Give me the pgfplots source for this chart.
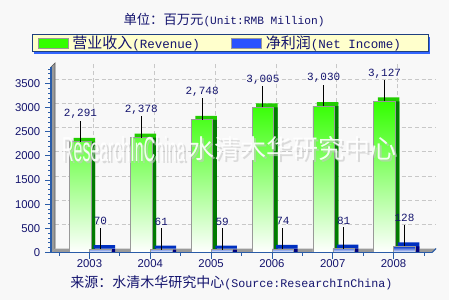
\documentclass[border=0pt]{standalone}
\usepackage{pgfplots}
\pgfplotsset{compat=1.18}
\usepackage{pgfplotstable}
\usepackage{fontspec}
\setmainfont{Liberation Sans}
\newfontfamily\cjk{Noto Sans CJK SC}
\newfontfamily\mono{Liberation Mono}
\definecolor{navy}{HTML}{14146E}
\definecolor{axblue}{HTML}{2A5CA8}
\definecolor{bg}{HTML}{F8F8F8}
\definecolor{gfront}{HTML}{33FF00}
\definecolor{gtop}{HTML}{22CC00}
\definecolor{gside}{HTML}{007A00}
\definecolor{bfront}{HTML}{0033CC}
\definecolor{btop}{HTML}{0030C0}
\definecolor{bside}{HTML}{000080}
\definecolor{wallgray}{HTML}{9A9A9A}
\definecolor{legbg}{HTML}{FFFFCC}
\definecolor{legshadow}{HTML}{3366FF}
\definecolor{legborder}{HTML}{1F3F7F}
\definecolor{gridgray}{HTML}{C8C8C8}
\definecolor{barborder}{HTML}{999999}

\pgfplotstableread{
x rev net
0 2291 70
1 2378 61
2 2748 59
3 3005 74
4 3030 81
5 3127 128
}\data

\begin{document}
\begin{tikzpicture}[x=0.75pt,y=0.75pt]
\fill[bg] (0,0) rectangle (449,300);

% back wall grid
\begin{axis}[scale only axis, width=285.75pt, height=139.125pt,
  at={(41.25pt,38.625pt)}, anchor=south west,
  xmin=-0.633, xmax=5.633, ymin=0, ymax=3840,
  axis line style={draw=none}, tick style={draw=none},
  xtick={0,...,5}, ytick={500,1000,...,3500},
  xticklabels={}, yticklabels={},
  grid=major, major grid style={gridgray, dash pattern=on 3pt off 2pt, line width=0.6pt},
]
\addplot[draw=none] coordinates {(0,0)};
\end{axis}

% main axis
\begin{axis}[scale only axis, width=285.75pt, height=139.125pt,
  at={(38.25pt,35.625pt)}, anchor=south west,
  xmin=-0.633, xmax=5.633, ymin=0, ymax=3840,
  axis x line*=bottom, axis y line*=left,
  axis line style={axblue, line width=0.8pt},
  axis on top,
  xtick={0,...,5}, xticklabels={2003,2004,2005,2006,2007,2008},
  minor xtick={-0.5,0.5,...,5.5},
  ytick={0,500,...,3500}, minor ytick={100,200,...,3800},
  tick align=outside, major tick length=4.5pt, minor tick length=2.25pt,
  tick style={axblue, line width=0.6pt},
  ticklabel style={font=\fontsize{8.5}{10}\selectfont, text=navy},
  xticklabel style={yshift=2.5pt},
  /pgf/number format/assume math mode=true,
  scaled y ticks=false, y tick label style={/pgf/number format/1000 sep={}},
  clip=false,
]
% floor and left wall
\fill[wallgray] (rel axis cs:0,0) -- (rel axis cs:1,0) -- ([shift={(3pt,3pt)}]rel axis cs:1,0) -- ([shift={(3pt,3pt)}]rel axis cs:0,0) -- cycle;
\draw[axblue, line width=0.8pt] (rel axis cs:1,0) -- ([shift={(3pt,3pt)}]rel axis cs:1,0);
\fill[wallgray] (rel axis cs:0,0) -- ([shift={(3pt,3pt)}]rel axis cs:0,0) -- ([shift={(3pt,3pt)}]rel axis cs:0,1) -- (rel axis cs:0,1) -- cycle;
\draw[gray!70!black, line width=0.5pt] (rel axis cs:0,1) -- ([shift={(3pt,3pt)}]rel axis cs:0,1) -- ([shift={(3pt,3pt)}]rel axis cs:0,0);

% revenue bars (3D faces)
\addplot[ybar, bar width=16.125pt, bar shift=-6.75pt, fill=gtop, draw=none, xshift=3pt, yshift=3pt] table[x=x,y=rev]{\data};
\addplot[ybar, bar width=16.125pt, bar shift=-6.75pt, fill=gside, draw=none, xshift=3pt] table[x=x,y=rev]{\data};
\addplot[ybar, bar width=16.125pt, bar shift=-6.75pt, draw=barborder, line width=0.6pt,
  top color=gfront, bottom color=white]
  table[x=x,y=rev]{\data};
% net income bars
\addplot[ybar, bar width=16.125pt, bar shift=8.25pt, fill=btop, draw=none, xshift=3pt, yshift=3pt] table[x=x,y=net]{\data};
\addplot[ybar, bar width=16.125pt, bar shift=8.25pt, fill=bside, draw=none, xshift=3pt] table[x=x,y=net]{\data};
\addplot[ybar, bar width=16.125pt, bar shift=8.25pt, draw=barborder, line width=0.6pt,
  top color=bfront, bottom color=white]
  table[x=x,y=net]{\data};

% leader lines and value labels
\addplot[draw=none, mark=none, xshift=-6.75pt,
  error bars/.cd, y dir=plus, y fixed=440, error mark=none,
  error bar style={black, line width=0.7pt, solid}]
  table[x=x,y=rev]{\data};
\addplot[draw=none, mark=none, xshift=8.25pt,
  error bars/.cd, y dir=plus, y fixed=440, error mark=none,
  error bar style={black, line width=0.7pt, solid}]
  table[x=x,y=net]{\data};
\addplot[draw=none, mark=none, xshift=-6.75pt,
  nodes near coords={\mono\fontsize{8.25}{10}\selectfont\pgfmathprintnumber[assume math mode=true,1000 sep={,}]{\pgfplotspointmeta}},
  every node near coord/.append style={anchor=center, yshift=21pt, text=navy, inner sep=0pt}]
  table[x=x,y=rev]{\data};
\addplot[draw=none, mark=none, xshift=8.25pt,
  nodes near coords={\mono\fontsize{8.25}{10}\selectfont\pgfmathprintnumber[assume math mode=true,1000 sep={,}]{\pgfplotspointmeta}},
  every node near coord/.append style={anchor=center, yshift=21pt, text=navy, inner sep=0pt}]
  table[x=x,y=net]{\data};
\end{axis}

% watermark
\node[text=gray!45, opacity=0.6, xscale=0.46, anchor=west, inner sep=0pt, font=\fontsize{26}{30}\selectfont] at (64,149) {ResearchInChina};
\node[text=white, opacity=0.9, xscale=0.46, anchor=west, inner sep=0pt, font=\fontsize{26}{30}\selectfont] at (62,151) {ResearchInChina};
\node[text=gray!45, opacity=0.6, anchor=west, inner sep=0pt, font=\cjk\fontsize{19.5}{22}\selectfont] at (190,149) {水清木华研究中心};
\node[text=white, opacity=0.9, anchor=west, inner sep=0pt, font=\cjk\fontsize{19.5}{22}\selectfont] at (188,151) {水清木华研究中心};

% title
\node[text=navy, inner sep=0pt] at (224,280) {{\cjk\fontsize{10}{12}\selectfont 单位：百万元}{\mono\fontsize{8.4}{12}\selectfont (Unit:RMB Million)}};

% legend
\fill[legshadow] (34.3,246) rectangle (430,263);
\filldraw[fill=legbg, draw=legborder, line width=0.75pt] (32.3,248) rectangle (428,265);
\filldraw[fill=gfront, draw=barborder, line width=0.75pt] (38.3,251.7) rectangle (68.3,261);
\filldraw[fill=legshadow!80!blue, draw=barborder, line width=0.75pt] (231.7,251.7) rectangle (261.7,261);
\node[text=navy, anchor=west, inner sep=0pt] at (72,256.3) {{\cjk\fontsize{11.25}{13}\selectfont 营业收入}{\mono\fontsize{9.4}{13}\selectfont (Revenue)}};
\node[text=navy, anchor=west, inner sep=0pt] at (265.5,256.3) {{\cjk\fontsize{11.25}{13}\selectfont 净利润}{\mono\fontsize{9.4}{13}\selectfont (Net Income)}};

% source
\node[text=navy, anchor=west, inner sep=0pt] at (70,17.7) {{\cjk\fontsize{10.5}{12}\selectfont 来源：水清木华研究中心}{\mono\fontsize{8.75}{12}\selectfont (Source:ResearchInChina)}};
\end{tikzpicture}
\end{document}
